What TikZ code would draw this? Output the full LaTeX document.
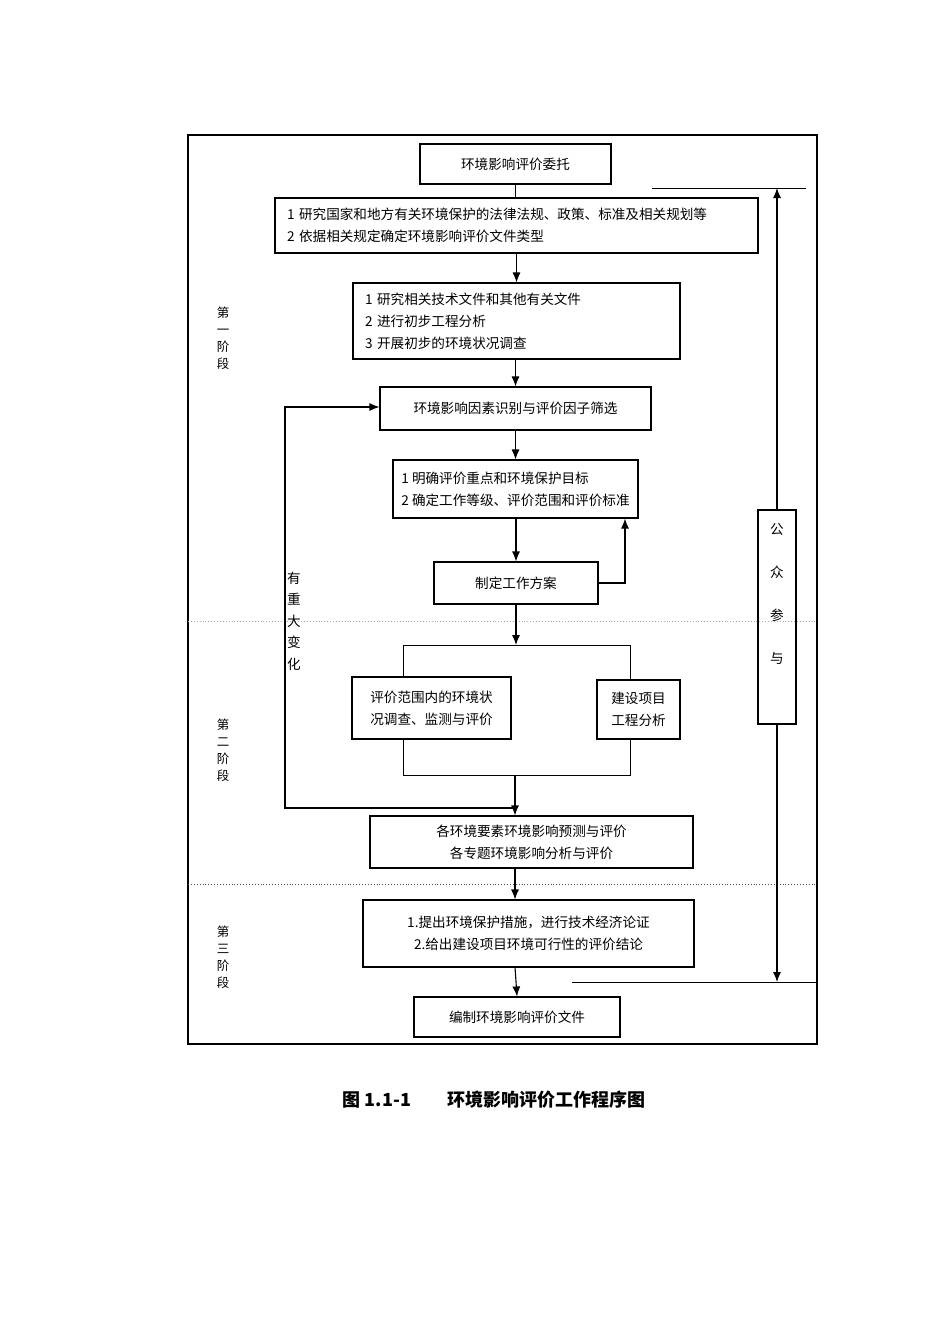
\documentclass[tikz,border=0pt]{standalone}
\usepackage{fontspec}
\setmainfont{Noto Sans CJK SC}
\usetikzlibrary{arrows.meta}
\begin{document}
\begin{tikzpicture}[x=1pt,y=-1pt,
  box/.style={draw,line width=1.1pt,rectangle,inner sep=0pt,align=center,font=\fontsize{13.6}{22}\selectfont},
  lbox/.style={box,align=left},
  arr/.style={line width=1.1pt,-{Latex[length=10pt,width=8pt]}},
  ln/.style={line width=1.1pt},
  thin/.style={line width=0.9pt},
  stage/.style={align=center,font=\fontsize{12.5}{17}\selectfont,inner sep=0pt},
]
\useasboundingbox (0,0) rectangle (950,1344);
\fill[white] (0,0) rectangle (950,1344);
% outer frame
\draw[line width=1.1pt] (188,135) rectangle (817,1044);
% dotted separators
\draw[gray!70,dotted,line width=0.9pt] (188,621) -- (817,621);
\draw[black!70,dotted,line width=0.9pt] (188,884) -- (817,884);

% boxes
\node[box,minimum width=191,minimum height=40] (b1) at (515.5,164) {环境影响评价委托};
\node[lbox,minimum width=483,minimum height=55,text width=459] (b2) at (516.5,225.5)
  {1 研究国家和地方有关环境保护的法律法规、政策、标准及相关规划等\\2 依据相关规定确定环境影响评价文件类型};
\node[lbox,minimum width=327,minimum height=76,text width=303] (b3) at (516.5,321)
  {1 研究相关技术文件和其他有关文件\\2 进行初步工程分析\\3 开展初步的环境状况调查};
\node[box,minimum width=271,minimum height=43] (b4) at (515.5,408.5) {环境影响因素识别与评价因子筛选};
\node[lbox,minimum width=245,minimum height=58] (b5) at (515.5,489)
  {1 明确评价重点和环境保护目标\\2 确定工作等级、评价范围和评价标准};
\node[box,minimum width=164,minimum height=42] (b6) at (516,583) {制定工作方案};
\node[box,minimum width=159,minimum height=62] (b7) at (431.5,708) {评价范围内的环境状\\况调查、监测与评价};
\node[box,minimum width=83,minimum height=59] (b8) at (638.5,709.5) {建设项目\\工程分析};
\node[box,minimum width=323,minimum height=52] (b9) at (531.5,842) {各环境要素环境影响预测与评价\\各专题环境影响分析与评价};
\node[box,minimum width=331,minimum height=67] (b10) at (528.5,933.5) {1.提出环境保护措施，进行技术经济论证\\2.给出建设项目环境可行性的评价结论};
\node[box,minimum width=206,minimum height=40] (b11) at (517,1017) {编制环境影响评价文件};
\node[box,minimum width=38,minimum height=214] (gz) at (777,617) {};
\node[align=center,font=\fontsize{13.6}{43}\selectfont,inner sep=0pt] (gzt) at (777,594) {公\\众\\参\\与};

% stage labels
\node[stage] (s1) at (223,338) {第\\一\\阶\\段};
\node[stage] (s2) at (223,750) {第\\二\\阶\\段};
\node[stage] (s3) at (223,957) {第\\三\\阶\\段};
\node[align=center,font=\fontsize{13.6}{21.5}\selectfont,inner sep=0pt] (chg) at (294,621) {有\\重\\大\\变\\化};

% connectors main flow
\draw[thin] (b1.south) -- (b1.south |- b2.north);
\draw[arr] (b2.south -| b3.north) -- (b3.north);
\draw[arr] (b3.south -| b4.north) -- (b4.north);
\draw[arr] (b4.south) -- (b4.south |- b5.north);
\draw[arr] (b5.south -| b6.north) -- (b6.north);
\coordinate (r6) at (625,583);
\draw[arr] (b6.east) -- (r6) -- (r6 |- b5.south);
% split bracket
\coordinate (top) at (516,645);
\coordinate (tl) at (403,645);
\coordinate (tr) at (630,645);
\coordinate (bl) at (403,775);
\coordinate (br) at (630,775);
\draw[arr] (b6.south) -- (top);
\draw[thin] (tl) -- (tr);
\draw[thin] (tl) -- (tl |- b7.north);
\draw[thin] (tr) -- (tr |- b8.north);
\draw[thin] (bl |- b7.south) -- (bl) -- (br) -- (br |- b8.south);
\coordinate (bot) at (515,775);
\draw[arr] (bot) -- (bot |- b9.north);
% feedback loop
\coordinate (fb1) at (515,808);
\coordinate (fb2) at (285,808);
\coordinate (fb3) at (285,407);
\draw[arr] (fb1) -- (fb2) -- (fb3) -- (fb3 -| b4.west);
% lower flow
\coordinate (m9) at (515,868);
\coordinate (m10) at (515,967);
\draw[arr] (m9) -- (m9 |- b10.north);
\draw[arr] (m10) -- (b11.north);
% public participation
\coordinate (gt) at (777,188);
\coordinate (gb) at (777,982);
\draw[arr] (gz.north) -- (gt);
\draw[thin] (652,188) -- (806,188);
\draw[arr] (gz.south) -- (gb);
\draw[thin] (572,982) -- (817,982);

% caption
\node[font=\fontsize{18}{20}\selectfont\bfseries,inner sep=0pt] (cap) at (494,1100) {图 1.1-1\hspace{2em}环境影响评价工作程序图};
\end{tikzpicture}
\end{document}
